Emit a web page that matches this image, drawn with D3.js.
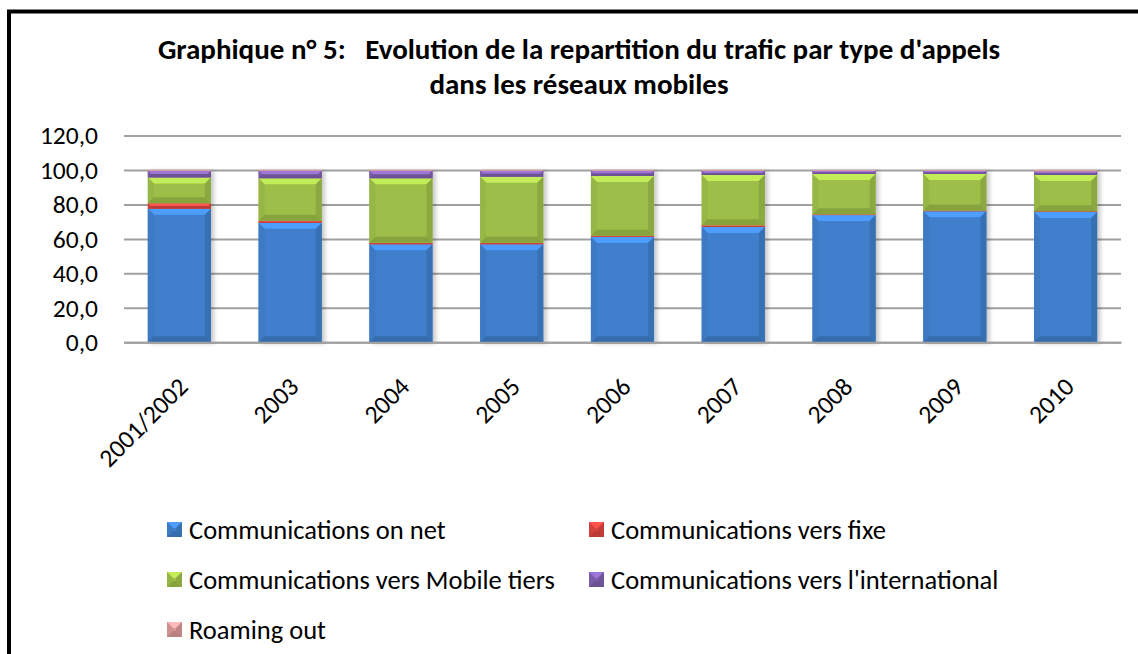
<!DOCTYPE html>
<html>
<head>
<meta charset="utf-8">
<script src="https://cdn.jsdelivr.net/npm/d3@7"></script>
<style>
  body { margin: 0; background: #fff; }
  svg { display: block; font-family: Carlito, Lato, sans-serif; }
</style>
</head>
<body>
<div id="chart"></div>
<script>
// données (en %)
const categories = ["2001/2002", "2003", "2004", "2005", "2006", "2007", "2008", "2009", "2010"];
const onNet         = [77.5, 69.3, 56.9, 56.9, 61.1, 66.9, 73.8, 76.1, 75.6];
const versFixe      = [3.2, 1.2, 0.9, 0.8, 0.7, 1.0, 0.5, 0.4, 0.5];
const mobileTiers   = [15.0, 24.7, 37.4, 38.4, 34.7, 29.2, 23.4, 21.2, 21.0];
const international = [3.8, 4.3, 4.3, 3.4, 3.0, 2.4, 1.8, 1.8, 2.1];
const roaming       = [0.5, 0.5, 0.5, 0.5, 0.5, 0.5, 0.5, 0.5, 0.8];
const seriesNames = ["Communications on net", "Communications vers fixe", "Communications vers Mobile tiers",
                     "Communications vers l'international", "Roaming out"];
const seriesColors = ["#3f7fcc", "#dc4540", "#9dbf48", "#7f5fae", "#d99695"];
const yTicks = [0, 20, 40, 60, 80, 100, 120];
const titleLines = ["Graphique n° 5:   Evolution de la repartition du trafic par type d'appels",
                    "dans les réseaux mobiles"];

const W = 1138, H = 654;
const margin = { top: 135.5, right: 17, bottom: 311.7, left: 124 };
const width = W - margin.left - margin.right;
const height = H - margin.top - margin.bottom;

const rows = categories.map((c, i) => ({
    cat: c, s0: onNet[i], s1: versFixe[i], s2: mobileTiers[i], s3: international[i], s4: roaming[i]
}));
const keys = ["s0", "s1", "s2", "s3", "s4"];
const stacked = d3.stack().keys(keys)(rows);

const svg = d3.select("#chart").append("svg")
    .attr("width", W)
    .attr("height", H);

svg.append("rect").attr("width", W).attr("height", H).attr("fill", "#fff");

// ombre légère à droite des barres
const defs = svg.append("defs");
defs.append("filter").attr("id", "shadow")
    .attr("x", "-10%").attr("y", "-10%").attr("width", "130%").attr("height", "120%")
    .append("feDropShadow")
    .attr("dx", 3).attr("dy", 1).attr("stdDeviation", 2)
    .attr("flood-color", "#000").attr("flood-opacity", 0.22);

// cadre (bord gauche et haut visibles)
svg.append("rect")
    .attr("x", 9).attr("y", 11.5)
    .attr("width", W + 20).attr("height", H + 20)
    .attr("fill", "none").attr("stroke", "#000").attr("stroke-width", 4);

// titre
svg.append("g").selectAll("text")
    .data(titleLines)
    .join("text")
    .attr("x", 579)
    .attr("y", (d, i) => 59 + i * 35)
    .attr("text-anchor", "middle")
    .attr("font-size", "29px")
    .attr("font-weight", "bold")
    .style("white-space", "pre")
    .text(d => d);

const g = svg.append("g").attr("transform", `translate(${margin.left},${margin.top})`);

const x = d3.scaleBand().domain(categories).range([0, width]).paddingInner(0.43).paddingOuter(0.215);
const y = d3.scaleLinear().domain([0, 120]).range([height, 0]);

// grille + axe Y
g.append("g")
    .call(d3.axisLeft(y).tickValues(yTicks).tickSize(-width).tickPadding(26)
        .tickFormat(d => d3.format(".1f")(d).replace(".", ",")))
    .call(a => a.select(".domain").remove())
    .call(a => a.selectAll("line").attr("stroke", "#a0a0a0").attr("stroke-width", 2))
    .call(a => a.selectAll("text").attr("fill", "#000").attr("font-size", "25.5px")
        .attr("font-family", "Carlito, Lato, sans-serif"));

// segment en relief (biseau)
function bevelRect(sel, x0, y0, w, h, color) {
    const c = d3.color(color);
    const b = Math.min(6, h / 2, w / 2);
    sel.append("rect").attr("x", x0).attr("y", y0).attr("width", w).attr("height", h).attr("fill", c.formatHex());
    const poly = (pts, fill) => sel.append("polygon").attr("points", pts.map(p => p.join(",")).join(" ")).attr("fill", fill);
    poly([[x0, y0], [x0 + w, y0], [x0 + w - b, y0 + b], [x0 + b, y0 + b]], c.brighter(0.6).formatHex());
    poly([[x0, y0], [x0 + b, y0 + b], [x0 + b, y0 + h - b], [x0, y0 + h]], c.darker(0.12).formatHex());
    poly([[x0 + w, y0], [x0 + w - b, y0 + b], [x0 + w - b, y0 + h - b], [x0 + w, y0 + h]], c.darker(0.35).formatHex());
    poly([[x0, y0 + h], [x0 + b, y0 + h - b], [x0 + w - b, y0 + h - b], [x0 + w, y0 + h]], c.darker(0.45).formatHex());
}

// barres empilées
const bars = g.append("g").selectAll("g")
    .data(categories)
    .join("g")
    .attr("filter", "url(#shadow)");

bars.each(function(cat, i) {
    const sel = d3.select(this);
    stacked.forEach((layer, k) => {
        const d = layer[i];
        const y0 = y(d[1]), h = y(d[0]) - y(d[1]);
        if (h > 0) bevelRect(sel, x(cat), y0, x.bandwidth(), h, seriesColors[k]);
    });
});

// axe X
g.append("g")
    .attr("transform", `translate(0,${height})`)
    .call(d3.axisBottom(x).tickSize(0).tickPadding(0))
    .call(a => a.select(".domain").attr("stroke", "#a0a0a0").attr("stroke-width", 2))
    .call(a => a.selectAll("text")
        .attr("font-size", "25.5px")
        .attr("font-family", "Carlito, Lato, sans-serif")
        .attr("fill", "#000")
        .attr("text-anchor", "end")
        .attr("dy", 0)
        .attr("transform", "translate(10,46) rotate(-45)"));

// légende
const legendPos = [[167, 530], [589, 530], [167, 580], [589, 580], [167, 630]];
const legend = svg.append("g").selectAll("g")
    .data(seriesNames)
    .join("g")
    .attr("transform", (d, i) => `translate(${legendPos[i][0]},${legendPos[i][1]})`);

legend.each(function(d, i) {
    bevelRect(d3.select(this), 0, -8, 15, 15, seriesColors[i]);
});
legend.append("text")
    .attr("x", 22)
    .attr("y", 0)
    .attr("dy", "0.35em")
    .attr("font-size", "26.5px")
    .text(d => d);
</script>
</body>
</html>
